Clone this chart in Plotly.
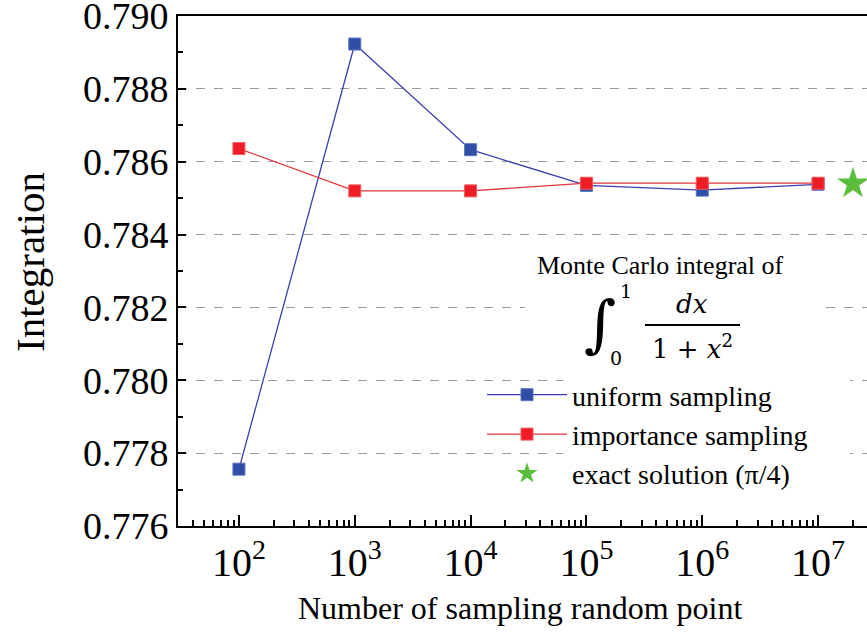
import math
import plotly.graph_objects as go

# ---- data ----
n_points = [1e2, 1e3, 1e4, 1e5, 1e6, 1e7]
uniform_vals = [0.77756, 0.78923, 0.78633, 0.78535, 0.78522, 0.78538]
importance_vals = [0.78636, 0.78520, 0.78520, 0.78541, 0.78541, 0.78541]
exact_x = [2e7]
exact_y = [math.pi / 4]

y_ticks = [0.776, 0.778, 0.780, 0.782, 0.784, 0.786, 0.788, 0.790]
y_ticktext = ["%.3f" % v for v in y_ticks]
x_ticks = [1e2, 1e3, 1e4, 1e5, 1e6, 1e7]
x_ticktext = ["10<sup>%d</sup>" % int(round(math.log10(v))) for v in x_ticks]
x_minor = [k * 10 ** d for d in range(1, 8) for k in range(2, 10)]

W, H = 867, 637
L, R, T, B = 178, 0, 16, 111
PW, PH = W - L - R, H - T - B
SERIF = "Liberation Serif, Times New Roman, serif"


def px(x):
    return (x - L) / PW


def py(y):
    return (H - B - y) / PH


fig = go.Figure()
fig.add_trace(go.Scatter(
    x=n_points, y=uniform_vals, mode="lines+markers", name="uniform sampling",
    line=dict(color="#3a3fae", width=1.3),
    marker=dict(symbol="square", size=12, color="#2f4ca6",
                line=dict(color="#5b74c0", width=1)),
))
fig.add_trace(go.Scatter(
    x=n_points, y=importance_vals, mode="lines+markers", name="importance sampling",
    line=dict(color="#e2343f", width=1.3),
    marker=dict(symbol="square", size=12, color="#ee1c25",
                line=dict(color="#f25a60", width=1)),
))
fig.add_trace(go.Scatter(
    x=exact_x, y=exact_y, mode="markers", name="exact solution (\u03c0/4)",
    marker=dict(symbol="star", size=24, color="#5bbd3c", line=dict(width=0)),
))

# white masks interrupting gridlines behind text blocks
shapes = [
    dict(type="rect", xref="paper", yref="paper", layer="above",
         x0=px(525), x1=px(823), y0=py(370), y1=py(290),
         fillcolor="white", line=dict(width=0)),
    dict(type="rect", xref="paper", yref="paper", layer="above",
         x0=px(563), x1=px(850), y0=py(495), y1=py(370),
         fillcolor="white", line=dict(width=0)),
    dict(type="line", xref="paper", yref="paper", layer="above",
         x0=px(645), x1=px(740), y0=py(325), y1=py(325),
         line=dict(color="black", width=2)),
]


def ann(text, x, y, size, family=SERIF, **kw):
    return dict(text=text, x=px(x), y=py(y), xref="paper", yref="paper",
                xanchor="center", yanchor="middle", showarrow=False,
                font=dict(family=family, size=size, color="black"), **kw)


annotations = [
    ann("Integration", 30, 262, 41, textangle=-90),
    ann("Number of sampling random point", 520, 608, 32),
    ann("Monte Carlo integral of", 660, 265, 26),
    ann("\u222b", 600, 323, 62, family="DejaVu Serif"),
    ann("1", 626, 291, 19, family="DejaVu Serif"),
    ann("0", 616, 358, 19, family="DejaVu Serif"),
    ann("<i>dx</i>", 692, 304, 26, family="DejaVu Serif"),
    ann("1 + <i>x</i><sup>2</sup>", 692, 347, 26, family="DejaVu Serif"),
]

fig.update_layout(
    width=W, height=H, autosize=False,
    margin=dict(l=L, r=R, t=T, b=B, pad=0, autoexpand=False),
    paper_bgcolor="white", plot_bgcolor="white",
    font=dict(family=SERIF, color="black"),
    showlegend=True,
    legend=dict(x=px(482), y=py(370), xanchor="left", yanchor="top",
                bgcolor="rgba(0,0,0,0)", borderwidth=0,
                font=dict(family=SERIF, size=28, color="black"),
                itemwidth=80, tracegroupgap=0),
    shapes=shapes,
    annotations=annotations,
)

fig.update_xaxes(
    type="log", range=[1.474, 7.422], automargin=False,
    tickmode="array", tickvals=x_ticks, ticktext=x_ticktext,
    ticks="inside", ticklen=11, tickwidth=2, tickcolor="black",
    minor=dict(tickmode="array", tickvals=x_minor, ticks="inside", ticklen=6,
               tickwidth=1.5, tickcolor="black", showgrid=False),
    showline=True, linewidth=2, linecolor="black", mirror=True,
    showgrid=False, zeroline=False, ticklabeloverflow="allow",
    tickfont=dict(family=SERIF, size=40, color="black"),
)
fig.update_yaxes(
    range=[0.776, 0.790], automargin=False,
    tickmode="array", tickvals=y_ticks, ticktext=y_ticktext,
    ticks="inside", ticklen=8, tickwidth=2, tickcolor="black",
    minor=dict(tick0=0.777, dtick=0.002, ticks="inside", ticklen=5,
               tickwidth=1.5, tickcolor="black", showgrid=False),
    showline=True, linewidth=2, linecolor="black",
    showgrid=True, gridcolor="#9a9a9a", gridwidth=1, griddash="dash",
    zeroline=False, ticklabeloverflow="allow",
    tickfont=dict(family=SERIF, size=38, color="black"),
)

fig.write_html("out.html")
